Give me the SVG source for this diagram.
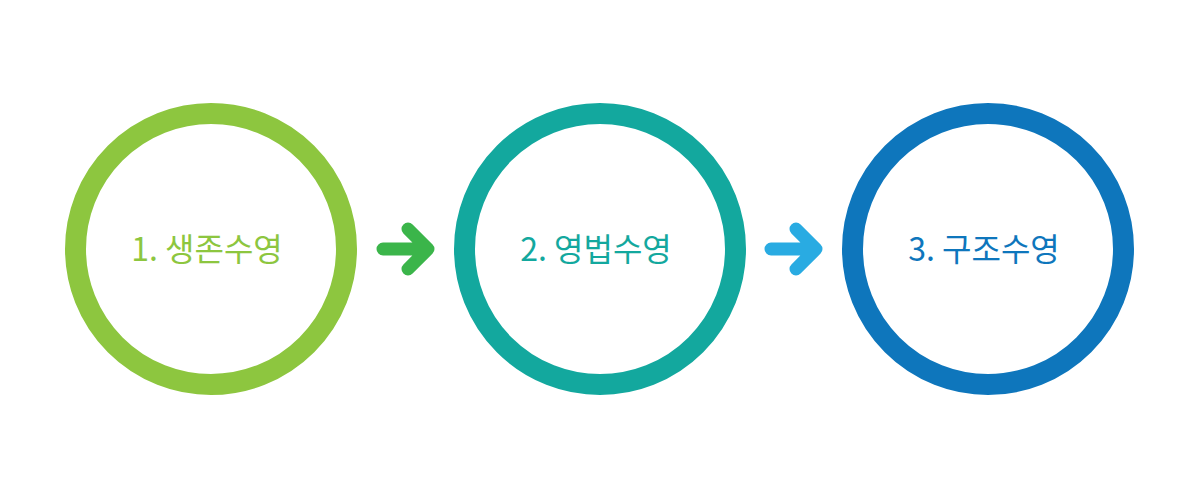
<svg xmlns="http://www.w3.org/2000/svg" width="1200" height="500" viewBox="0 0 1200 500">
<style>
.ring{fill:#fff;stroke-width:21}
.lbl{font-family:"Noto Sans CJK KR","Noto Sans",sans-serif;font-size:32px;text-anchor:middle}
.arr{fill:none;stroke-width:13;stroke-linecap:round;stroke-linejoin:round}
</style>
<rect width="1200" height="500" fill="#fff"/>
<g id="node1">
<circle class="ring" cx="211" cy="249" r="135.5" stroke="#8dc63f"/>
<text class="lbl" x="207" y="261" fill="#8dc63f">1. 생존수영</text>
</g>
<g id="node2">
<circle class="ring" cx="600" cy="249" r="135.5" stroke="#13a89e"/>
<text class="lbl" x="596" y="261" fill="#13a89e">2. 영법수영</text>
</g>
<g id="node3">
<circle class="ring" cx="988" cy="249" r="135.5" stroke="#0e76bc"/>
<text class="lbl" x="984" y="261" fill="#0e76bc">3. 구조수영</text>
</g>
<g id="connectors">
<path class="arr" stroke="#3bb54a" d="M383 249 H427 M408 229 L428 249 L408 269"/>
<path class="arr" stroke="#29abe2" d="M771 249 H815 M796 229 L816 249 L796 269"/>
</g>
</svg>
